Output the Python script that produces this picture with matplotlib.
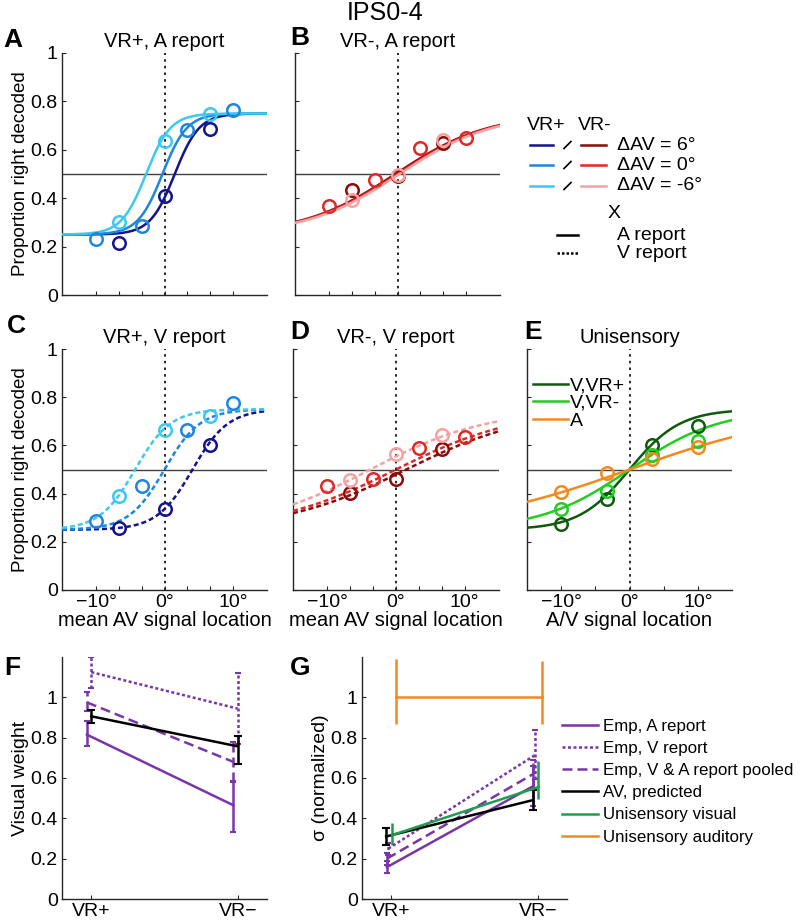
import numpy as np
import matplotlib
matplotlib.use("Agg")
import matplotlib.pyplot as plt

plt.rcParams['font.family'] = ['Liberation Sans', 'DejaVu Sans']
plt.rcParams['axes.unicode_minus'] = True

# ---- data -------------------------------------------------------------
# stimulus locations (mean AV location, deg)
loc7 = [-10, -6.67, -3.33, 0, 3.33, 6.67, 10]
loc_d0 = [-10, -3.33, 3.33, 10]        # delta AV = 0
loc_d6 = [-6.67, 0, 6.67]              # delta AV = +/-6
loc_uni = [-10, -3.33, 3.33, 10]

# A: VR+, A report  (points)
a_d6 = [0.215, 0.41, 0.686]
a_d0 = [0.233, 0.287, 0.683, 0.766]
a_dm6 = [0.30, 0.637, 0.748]
# B: VR-, A report
b_d6 = [0.432, 0.49, 0.628]
b_d0 = [0.366, 0.476, 0.607, 0.648]
b_dm6 = [0.393, 0.497, 0.641]
# C: VR+, V report
c_d6 = [0.256, 0.338, 0.602]
c_d0 = [0.287, 0.432, 0.662, 0.776]
c_dm6 = [0.39, 0.665, 0.723]
# D: VR-, V report
d_d6 = [0.402, 0.461, 0.584]
d_d0 = [0.432, 0.46, 0.589, 0.634]
d_dm6 = [0.457, 0.565, 0.644]
# E: unisensory
e_vvrp = [0.275, 0.377, 0.601, 0.681]
e_vvrm = [0.336, 0.41, 0.56, 0.62]
e_aud = [0.407, 0.486, 0.545, 0.593]

# fitted psychometric parameters (mu, slope scale) per curve, order 6, 0, -6
fit_a = [(1.5, 1.8), (-0.3, 1.8), (-2.7, 1.8)]
fit_b = [(-0.3, 6.8), (0.0, 6.8), (0.3, 6.8)]
fit_c = [(4.1, 2.6), (0.0, 2.6), (-4.3, 2.6)]
fit_d = [(1.5, 9.0), (0.0, 8.9), (-3.75, 8.5)]
fit_e = [(0.0, 3.7), (0.0, 6.5), (0.0, 12.5)]

# F / G
conds = ['VR+', 'VR\u2212']
w_empA = [0.815, 0.465]; w_empA_lo = [0.058, 0.135]; w_empA_hi = [0.068, 0.119]
w_empV = [1.125, 0.944]; w_empV_lo = [0.08, 0.175]; w_empV_hi = [0.075, 0.175]
w_pool = [0.975, 0.68];  w_pool_lo = [0.045, 0.1];  w_pool_hi = [0.05, 0.1]
w_pred = [0.906, 0.757]; w_pred_lo = [0.033, 0.087]; w_pred_hi = [0.033, 0.053]

s_empA = [0.158, 0.56];  s_empA_err = [0.03, 0.1]
s_empV = [0.25, 0.713];  s_empV_lo = [0.03, 0.12]; s_empV_hi = [0.03, 0.127]
s_pool = [0.2, 0.62];    s_pool_err = [0.03, 0.07]
s_pred = [0.31, 0.49];   s_pred_err = [0.042, 0.05]
s_vis = [0.317, 0.555];  s_vis_lo = [0.05, 0.06]; s_vis_hi = [0.06, 0.13]
s_aud = [1.0, 1.0];      s_aud_lo = [0.13, 0.13]; s_aud_hi = [0.19, 0.18]
g_labels = ['Emp, A report', 'Emp, V report', 'Emp, V & A report pooled',
            'AV, predicted', 'Unisensory visual', 'Unisensory auditory']

# ---- colours ---------------------------------------------------------
blues = ['#14148c', '#1f86e0', '#3cc8f0']
reds = ['#8c0a0a', '#e02828', '#f4a2a2']
greens = ['#0e5a0e', '#22cc22', '#f5891e']
purple = '#7a35a8'
gvis = '#1f9e4f'
orange = '#f5891e'


def psy(x, mu, s, lo=0.25, hi=0.75):
    return lo + (hi - lo) / (1 + np.exp(-(x - mu) / s))


W, H = 800, 924
fig = plt.figure(figsize=(8, 9.24), dpi=100)


def px_axes(l, t, r, b):
    return fig.add_axes([l / W, 1 - b / H, (r - l) / W, (b - t) / H])


def style(ax):
    for sp in ['top', 'right']:
        ax.spines[sp].set_visible(False)
    for sp in ['left', 'bottom']:
        ax.spines[sp].set_color('#262626')
        ax.spines[sp].set_linewidth(1.0)
    ax.tick_params(direction='in', length=3, width=0.8, labelsize=14,
                   colors='#262626', labelcolor='black', pad=3)


xs = np.linspace(-15, 15, 300)


def psy_panel(ax, title, fits, pts, colors, ls, xlab, ylab):
    style(ax)
    ax.set_xlim(-15, 15)
    ax.set_ylim(0, 1)
    ax.axhline(0.5, color='#404040', lw=1.0, zorder=1)
    ax.axvline(0, color='black', lw=1.2, ls=(0, (1.5, 2.5)), zorder=1)
    for (mu, s), c in zip(fits, colors):
        ax.plot(xs, psy(xs, mu, s), color=c, lw=1.8, ls=ls, zorder=3)
    for (xp, yp), c in zip(pts, colors):
        ax.plot(xp, yp, marker='o', ms=9, mfc='none', mec=c, mew=1.8,
                ls='none', zorder=4)
    ax.set_xticks(loc7)
    ax.set_xticklabels(['\u221210\u00b0', '', '', '0\u00b0', '', '', '10\u00b0'] if xlab else [])
    ax.set_yticks([0, 0.2, 0.4, 0.6, 0.8, 1])
    if ylab:
        ax.set_yticklabels(['0', '0.2', '0.4', '0.6', '0.8', '1'])
        ax.set_ylabel('Proportion right decoded', fontsize=13.5, labelpad=1)
    else:
        ax.set_yticklabels([])
    if xlab:
        ax.set_xlabel(xlab, fontsize=14.5, labelpad=0)
    ax.set_title(title, fontsize=14.5, pad=4)


axA = px_axes(62, 53, 267, 295)
psy_panel(axA, 'VR+, A report', fit_a,
          [(loc_d6, a_d6), (loc_d0, a_d0), (loc_d6, a_dm6)], blues, '-', None, True)
axB = px_axes(295, 53, 500, 295)
psy_panel(axB, 'VR-, A report', fit_b,
          [(loc_d6, b_d6), (loc_d0, b_d0), (loc_d6, b_dm6)], reds, '-', None, False)
axC = px_axes(62, 349, 267, 590)
psy_panel(axC, 'VR+, V report', fit_c,
          [(loc_d6, c_d6), (loc_d0, c_d0), (loc_d6, c_dm6)], blues, (0, (2, 1.2)),
          'mean AV signal location', True)
axD = px_axes(293, 349, 499, 590)
psy_panel(axD, 'VR-, V report', fit_d,
          [(loc_d6, d_d6), (loc_d0, d_d0), (loc_d6, d_dm6)], reds, (0, (2, 1.2)),
          'mean AV signal location', False)
axE = px_axes(527, 349, 732, 590)
psy_panel(axE, 'Unisensory', fit_e,
          [(loc_uni, e_vvrp), (loc_uni, e_vvrm), (loc_uni, e_aud)], greens, '-',
          'A/V signal location', False)
axE.set_xticks([-10, -5, 0, 5, 10])
axE.set_xticklabels(['\u221210\u00b0', '', '0\u00b0', '', '10\u00b0'])
handles = axE.get_lines()[2:5]
axE.legend(handles, ['V,VR+', 'V,VR-', 'A'], loc='upper left',
           bbox_to_anchor=(0.03, 0.885), frameon=False, fontsize=14,
           handlelength=1.8, handletextpad=0.1, labelspacing=0.0,
           borderpad=0, borderaxespad=0)

# ---- F ---------------------------------------------------------------
xc = np.array([1, 2])
axF = px_axes(62, 657, 267, 899)
style(axF)
for vals, lo, hi, ls, c, dx, cap in [
        (w_empA, w_empA_lo, w_empA_hi, '-', purple, -0.03, 2),
        (w_empV, w_empV_lo, w_empV_hi, (0, (1.2, 1)), purple, 0.0, 2),
        (w_pool, w_pool_lo, w_pool_hi, (0, (4, 2)), purple, -0.03, 2),
        (w_pred, w_pred_lo, w_pred_hi, '-', 'black', 0.0, 3)]:
    eb = axF.errorbar(xc + dx, vals, yerr=[lo, hi], color=c, lw=1.8, ls=ls,
                      capsize=cap, capthick=1.5, elinewidth=1.8)
    eb[-1][0].set_linestyle(ls)
axF.set_xlim(0.8, 2.2)
axF.set_ylim(0, 1.2)
axF.set_xticks(xc)
axF.set_xticklabels(conds)
axF.set_yticks([0, 0.2, 0.4, 0.6, 0.8, 1])
axF.set_yticklabels(['0', '0.2', '0.4', '0.6', '0.8', '1'])
axF.set_ylabel('Visual weight', fontsize=14, labelpad=1)

# ---- G ---------------------------------------------------------------
axG = px_axes(362, 657, 567, 899)
style(axG)
gh = []
for vals, lo, hi, ls, c, dx, cap in [
        (s_empA, s_empA_err, s_empA_err, '-', purple, -0.03, 2),
        (s_empV, s_empV_lo, s_empV_hi, (0, (1.2, 1)), purple, -0.02, 2),
        (s_pool, s_pool_err, s_pool_err, (0, (4, 2)), purple, -0.03, 2),
        (s_pred, s_pred_err, s_pred_err, '-', 'black', -0.035, 3),
        (s_vis, s_vis_lo, s_vis_hi, '-', gvis, 0.005, 0),
        (s_aud, s_aud_lo, s_aud_hi, '-', orange, 0.03, 0)]:
    eb = axG.errorbar(xc + dx, vals, yerr=[lo, hi], color=c, lw=1.8, ls=ls,
                      capsize=cap, capthick=1.5, elinewidth=1.8)
    eb[-1][0].set_linestyle(ls)
    gh.append(eb[0])
axG.set_xlim(0.8, 2.2)
axG.set_ylim(0, 1.2)
axG.set_xticks(xc)
axG.set_xticklabels(conds)
axG.set_yticks([0, 0.2, 0.4, 0.6, 0.8, 1])
axG.set_yticklabels(['0', '0.2', '0.4', '0.6', '0.8', '1'])
axG.set_ylabel('\u03c3 (normalized)', fontsize=14, labelpad=1)
fig.legend(gh, g_labels, loc='upper left',
           bbox_to_anchor=(562 / W, 1 - 719 / H), frameon=False, fontsize=12.2,
           handlelength=2.1, handletextpad=0.3, labelspacing=0.42,
           borderpad=0, borderaxespad=0)

# ---- key for A-D (drawn in pixel space) ------------------------------
kx = fig.add_axes([0, 0, 1, 1], zorder=-1)
kx.set_xlim(0, W)
kx.set_ylim(H, 0)
kx.axis('off')
kfs = 14
kx.text(527, 126, 'VR+', fontsize=kfs, va='center', ha='left')
kx.text(578, 126, 'VR-', fontsize=kfs, va='center', ha='left')
for i, (lab, ky) in enumerate([('6', 145), ('0', 165), ('-6', 186)]):
    kx.plot([530, 553], [ky, ky], color=blues[i], lw=1.8)
    kx.plot([564, 571], [ky + 3.5, ky - 3.5], color='black', lw=1.2)
    kx.plot([581, 606], [ky, ky], color=reds[i], lw=1.8)
    kx.text(617, ky, '\u0394AV = %s\u00b0' % lab, fontsize=kfs, va='center', ha='left')
kx.text(614, 213, 'X', fontsize=kfs, va='center', ha='center')
kx.plot([557, 578], [235, 235], color='black', lw=1.8)
kx.text(617, 235, 'A report', fontsize=kfs, va='center', ha='left')
kx.plot([557, 578], [253, 253], color='black', lw=1.8, ls=(0, (1, 0.8)))
kx.text(617, 253, 'V report', fontsize=kfs, va='center', ha='left')

# ---- panel letters & overall title -----------------------------------
fig.text(385 / W, 1 - 13 / H, 'IPS0-4', fontsize=18, ha='center', va='center')
for let, (lx, ly) in {'A': (13, 40), 'B': (300, 38), 'C': (16, 326), 'D': (300, 332),
                      'E': (533, 332), 'F': (12, 668), 'G': (300, 668)}.items():
    fig.text(lx / W, 1 - ly / H, let, fontsize=19, fontweight='bold',
             ha='center', va='center')

fig.savefig('out.png', dpi=100)
